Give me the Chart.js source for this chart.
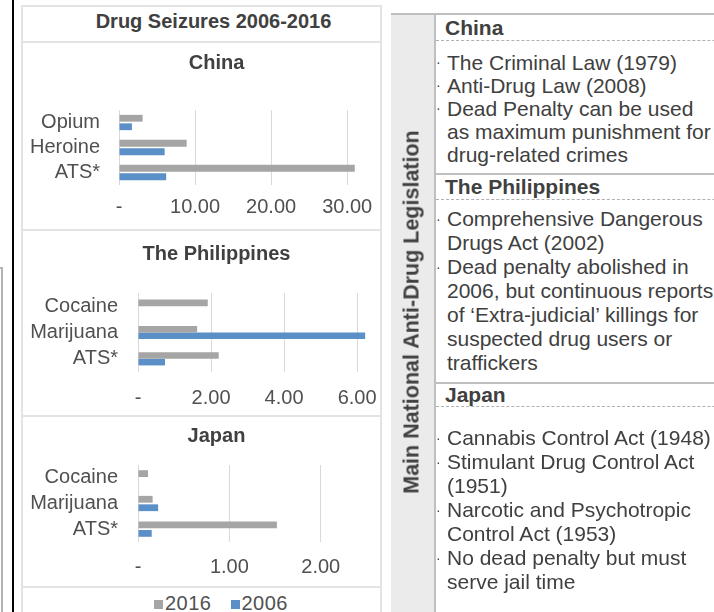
<!DOCTYPE html>
<html>
<head>
<meta charset="utf-8">
<script src="https://cdn.jsdelivr.net/npm/chart.js@4.4.0/dist/chart.umd.min.js"></script>
<style>
  html, body { margin: 0; padding: 0; }
  body { width: 714px; height: 612px; overflow: hidden; position: relative; background: #fff;
         font-family: "Liberation Sans", Arial, sans-serif; }
  #edgeBox { position: absolute; left: -20px; top: 267px; width: 19px; height: 400px; border: 2px solid #b3b3b3; }
  #blackLine { position: absolute; left: 12px; top: 0; width: 2px; height: 612px; background: #000; }
  #panel { position: absolute; left: 21px; top: 5px; width: 357px; height: 640px;
           border: 2px solid #e3e3e3; overflow: hidden; }
  #mainTitle { height: 34px; line-height: 28px; padding-left: 24px; text-align: center; font-weight: bold;
               font-size: 20px; color: #404040; border-bottom: 2px solid #e3e3e3; }
  .sub { position: relative; }
  .subTitle { position: absolute; left: 0; width: 327px; padding-left: 30px; text-align: center;
              line-height: 24px; font-size: 20px; font-weight: bold; color: #404040; }
  .sep { height: 2px; background: #e3e3e3; }
  canvas { display: block; }
  #legend { height: 30px; line-height: 30px; padding-left: 131px; font-size: 20px; color: #505050; white-space: nowrap; }
  #legend span.sw { display: inline-block; width: 9px; height: 9px; margin-right: 2px; vertical-align: 1px; }
  #legend span.lab { margin-right: 19px; letter-spacing: 0.5px; }

  #table { position: absolute; left: 391px; top: 13px; width: 430px; height: 640px; border-top: 2px solid #bfbfbf; }
  #headCol { position: absolute; left: 0; top: 0; width: 43px; height: 100%; background: #ebebeb;
             border-right: 2px solid #bfbfbf; }
  #headText { position: absolute; left: 412px; top: 312px; transform: translate(-50%, -50%) rotate(-90deg);
              white-space: nowrap; font-weight: bold; font-size: 21.5px; color: #404040; }
  #content { position: absolute; left: 45px; top: 0; width: 385px; color: #404040; font-size: 21px; }
  .head { font-weight: bold; padding-left: 9px; border-bottom: 1px dashed #b0b0b0; white-space: nowrap; }
  .items { border-bottom: 2px solid #bfbfbf; }
  .item { position: relative; padding-left: 11px; white-space: nowrap; }
  .item .dot { position: absolute; left: 0; top: 0; font-size: 14px; }
</style>
</head>
<body>
<div id="edgeBox"></div>
<div id="blackLine"></div>

<div id="panel">
  <div id="mainTitle">Drug Seizures 2006-2016</div>
  <div class="sub">
    <div class="subTitle" style="top:7px;">China</div>
    <canvas id="china" width="388" height="186"></canvas>
  </div>
  <div class="sep"></div>
  <div class="sub">
    <div class="subTitle" style="top:10px;">The Philippines</div>
    <canvas id="phil" width="388" height="184"></canvas>
  </div>
  <div class="sep"></div>
  <div class="sub">
    <div class="subTitle" style="top:6px;">Japan</div>
    <canvas id="japan" width="388" height="169"></canvas>
  </div>
  <div class="sep"></div>
  <div id="legend"></div>
</div>

<div id="table">
  <div id="headCol"></div>
  <div id="content">
    <div class="head" style="height:25px;line-height:25px;">China</div>
    <div class="items" style="line-height:23px;padding-top:10px;padding-bottom:7px;">
      <div class="item"><span class="dot">·</span>The Criminal Law (1979)</div>
      <div class="item"><span class="dot">·</span>Anti-Drug Law (2008)</div>
      <div class="item"><span class="dot">·</span>Dead Penalty can be used<br>as maximum punishment for<br>drug-related crimes</div>
    </div>
    <div class="head" style="height:24px;line-height:24px;">The Philippines</div>
    <div class="items" style="line-height:24px;padding-top:7px;padding-bottom:7px;">
      <div class="item"><span class="dot">·</span>Comprehensive Dangerous<br>Drugs Act (2002)</div>
      <div class="item"><span class="dot">·</span>Dead penalty abolished in<br>2006, but continuous reports<br>of ‘Extra-judicial’ killings for<br>suspected drug users or<br>traffickers</div>
    </div>
    <div class="head" style="height:22px;line-height:22px;">Japan</div>
    <div style="line-height:24px;padding-top:19px;">
      <div class="item"><span class="dot">·</span>Cannabis Control Act (1948)</div>
      <div class="item"><span class="dot">·</span>Stimulant Drug Control Act<br>(1951)</div>
      <div class="item"><span class="dot">·</span>Narcotic and Psychotropic<br>Control Act (1953)</div>
      <div class="item"><span class="dot">·</span>No dead penalty but must<br>serve jail time</div>
    </div>
  </div>
</div>
<div id="headText">Main National Anti-Drug Legislation</div>

<script>
// series
var seriesNames = ['2016', '2006'];
var seriesColors = ['#a5a5a5', '#5b8fc8'];

// China
var chinaDrugs = ['Opium', 'Heroine', 'ATS*'];
var china2016 = [3.1, 8.9, 31.0];
var china2006 = [1.7, 6.0, 6.2];
var chinaTicks = [0, 10, 20, 30];

// The Philippines
var philDrugs = ['Cocaine', 'Marijuana', 'ATS*'];
var phil2016 = [1.91, 1.62, 2.21];
var phil2006 = [0, 6.22, 0.74];
var philTicks = [0, 2, 4, 6];

// Japan
var japanDrugs = ['Cocaine', 'Marijuana', 'ATS*'];
var japan2016 = [0.11, 0.16, 1.52];
var japan2006 = [0, 0.22, 0.15];
var japanTicks = [0, 1, 2];

Chart.defaults.font.family = '"Liberation Sans", Arial, sans-serif';
Chart.defaults.font.size = 20;
Chart.defaults.color = '#505050';

function drugChart(id, labels, data2016, data2006, ticks, max, box) {
    return new Chart(document.getElementById(id), {
        type: 'bar',
        data: {
            labels: labels,
            datasets: [
                { label: seriesNames[0], data: data2016, backgroundColor: seriesColors[0],
                  categoryPercentage: box.cat, barPercentage: box.bar },
                { label: seriesNames[1], data: data2006, backgroundColor: seriesColors[1],
                  categoryPercentage: box.cat, barPercentage: box.bar }
            ]
        },
        options: {
            indexAxis: 'y',
            responsive: false,
            animation: false,
            devicePixelRatio: 1,
            layout: { padding: { left: 0, right: box.right, top: box.top, bottom: box.bottom } },
            plugins: {
                legend: { display: false },
                tooltip: { enabled: false }
            },
            scales: {
                x: {
                    min: 0, max: max,
                    grid: { color: '#d9d9d9', drawTicks: false },
                    border: { display: false },
                    afterBuildTicks: function (s) { s.ticks = ticks.map(function (v) { return { value: v }; }); },
                    afterFit: function (s) { s.height = 24 + box.xPad; },
                    ticks: {
                        padding: box.xPad, maxRotation: 0, autoSkip: false,
                        callback: function (v) { return v === 0 ? '-' : v.toFixed(2); }
                    }
                },
                y: {
                    grid: { display: false, drawTicks: false },
                    border: { display: false },
                    afterFit: function (s) { s.width = box.yWidth; },
                    ticks: { padding: box.yPad, autoSkip: false }
                }
            }
        }
    });
}

drugChart('china', chinaDrugs, china2016, china2006, chinaTicks, 33,
    { cat: 0.68, bar: 0.8, right: 41, top: 67, bottom: 10, xPad: 10, yWidth: 96, yPad: 19 });
drugChart('phil', philDrugs, phil2016, phil2006, philTicks, 6.38,
    { cat: 0.5, bar: 1.0, right: 40, top: 62, bottom: 5, xPad: 14, yWidth: 115, yPad: 20 });
drugChart('japan', japanDrugs, japan2016, japan2006, japanTicks, 2.55,
    { cat: 0.66, bar: 0.8, right: 40, top: 48, bottom: 7, xPad: 13, yWidth: 115, yPad: 20 });

// legend built from the series
var legend = document.getElementById('legend');
seriesNames.forEach(function (name, i) {
    legend.innerHTML += '<span class="sw" style="background:' + seriesColors[i] + '"></span><span class="lab">' + name + '</span>';
});
</script>
</body>
</html>
